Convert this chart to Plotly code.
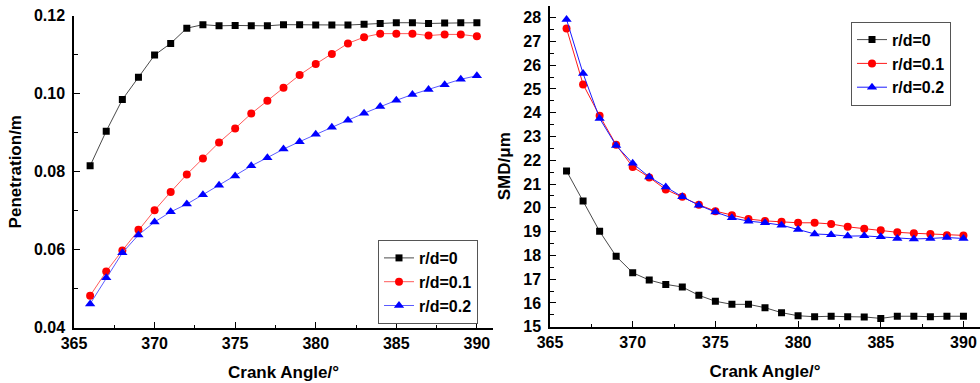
import plotly.graph_objects as go

crank = list(range(366, 391))

pen_r0 = [0.0815, 0.0904, 0.0985, 0.1042, 0.1099, 0.1129, 0.1168, 0.1177, 0.1174, 0.1175,
          0.1174, 0.1174, 0.1177, 0.1177, 0.1176, 0.1176, 0.1176, 0.1178, 0.1180, 0.1182,
          0.1182, 0.1180, 0.1181, 0.1182, 0.1182]
pen_r01 = [0.0482, 0.0544, 0.0598, 0.0651, 0.0701, 0.0748, 0.0793, 0.0834, 0.0875, 0.0911,
           0.0949, 0.0982, 0.1015, 0.1048, 0.1076, 0.1102, 0.1129, 0.1145, 0.1154, 0.1154,
           0.1154, 0.1149, 0.1152, 0.1152, 0.1147]
pen_r02 = [0.0461, 0.0528, 0.0592, 0.0638, 0.0671, 0.0697, 0.0717, 0.0741, 0.0765, 0.0789,
           0.0815, 0.0836, 0.0858, 0.0877, 0.0896, 0.0914, 0.0932, 0.0950, 0.0967, 0.0983,
           0.0998, 0.1011, 0.1023, 0.1037, 0.1046]

smd_r0 = [21.55, 20.29, 19.01, 17.96, 17.27, 16.96, 16.78, 16.67, 16.32, 16.07,
          15.94, 15.94, 15.80, 15.59, 15.46, 15.42, 15.44, 15.42, 15.41, 15.35,
          15.44, 15.44, 15.42, 15.44, 15.44]
smd_r01 = [27.54, 25.19, 23.87, 22.65, 21.72, 21.28, 20.77, 20.46, 20.13, 19.86,
           19.69, 19.53, 19.45, 19.41, 19.37, 19.37, 19.32, 19.20, 19.12, 19.06,
           18.97, 18.93, 18.90, 18.85, 18.84]
smd_r02 = [27.92, 25.65, 23.76, 22.62, 21.87, 21.30, 20.88, 20.46, 20.11, 19.82,
           19.58, 19.44, 19.37, 19.27, 19.09, 18.90, 18.87, 18.81, 18.82, 18.78,
           18.71, 18.69, 18.71, 18.75, 18.71]

names = ["r/d=0", "r/d=0.1", "r/d=0.2"]
colors = ["#000000", "#ff0000", "#0000ff"]
left_line_colors = ["#4a4a4a", "#ff5a5a", "#5a5aff"]
right_line_colors = ["#4a4a4a", "#ff1a1a", "#1a1aff"]
symbols = ["square", "circle", "triangle-up"]
sizes = [7, 8, 9]

FONT = "Liberation Sans, Arial, sans-serif"

fig = go.Figure()

for i, ys in enumerate([pen_r0, pen_r01, pen_r02]):
    fig.add_trace(go.Scatter(
        x=crank, y=ys, name=names[i], mode="lines+markers",
        line=dict(color=left_line_colors[i], width=1),
        marker=dict(symbol=symbols[i], size=sizes[i], color=colors[i]),
        xaxis="x", yaxis="y", legend="legend"))

for i, ys in enumerate([smd_r0, smd_r01, smd_r02]):
    fig.add_trace(go.Scatter(
        x=crank, y=ys, name=names[i], mode="lines+markers",
        line=dict(color=right_line_colors[i], width=1),
        marker=dict(symbol=symbols[i], size=sizes[i], color=colors[i]),
        xaxis="x2", yaxis="y2", legend="legend2"))

tickfont = dict(family=FONT, size=16, color="black", weight="bold")
titlefont = dict(family=FONT, size=17, color="black", weight="bold")
legfont = dict(family=FONT, size=16, color="black", weight="bold")

common_axis = dict(
    showline=True, linecolor="black", linewidth=1.5, mirror=False,
    showgrid=False, zeroline=False, ticks="inside", ticklen=6, tickwidth=1,
    tickcolor="black", tickfont=tickfont, automargin=False,
)

fig.update_layout(
    width=980, height=383,
    margin=dict(l=0, r=0, t=0, b=0),
    paper_bgcolor="white", plot_bgcolor="white",
    font=dict(family=FONT, color="black"),
    xaxis=dict(common_axis, domain=[74/980, 493/980], range=[365, 391], anchor="y",
               tick0=365, dtick=5,
               minor=dict(ticks="inside", ticklen=3, tickcolor="black", dtick=2.5, tick0=365),
               title=dict(text="Crank Angle/°", font=titlefont, standoff=15)),
    yaxis=dict(common_axis, domain=[1-327.7/383, 1-15.7/383], range=[0.04, 0.12], anchor="x",
               tick0=0.04, dtick=0.02, tickformat=".2f", ticklabelstandoff=4,
               minor=dict(ticks="inside", ticklen=4, tickcolor="black", dtick=0.01, tick0=0.04),
               title=dict(text="Penetration/m", font=titlefont, standoff=8)),
    xaxis2=dict(common_axis, domain=[550/980, 1.0], range=[365, 391], anchor="y2",
                tick0=365, dtick=5,
                minor=dict(ticks="inside", ticklen=3, tickcolor="black", dtick=2.5, tick0=365),
                title=dict(text="Crank Angle/°", font=titlefont, standoff=15)),
    yaxis2=dict(common_axis, domain=[1-326.7/383, 1-5.7/383], range=[15, 28.5], anchor="x2",
                tick0=15, dtick=1, ticklabelstandoff=4,
                minor=dict(ticks="inside", ticklen=4, tickcolor="black", dtick=0.5, tick0=15),
                title=dict(text="SMD/μm", font=titlefont, standoff=8)),
    legend=dict(x=378/980, y=1-240/383, xanchor="left", yanchor="top",
                bgcolor="white", bordercolor="#555555", borderwidth=1,
                font=legfont, tracegroupgap=0, entrywidth=72, entrywidthmode="pixels"),
    legend2=dict(x=851/980, y=1-21.7/383, xanchor="left", yanchor="top",
                 bgcolor="white", bordercolor="#555555", borderwidth=1,
                 font=legfont, tracegroupgap=0, entrywidth=72, entrywidthmode="pixels"),
)

fig.write_html("out.html")
